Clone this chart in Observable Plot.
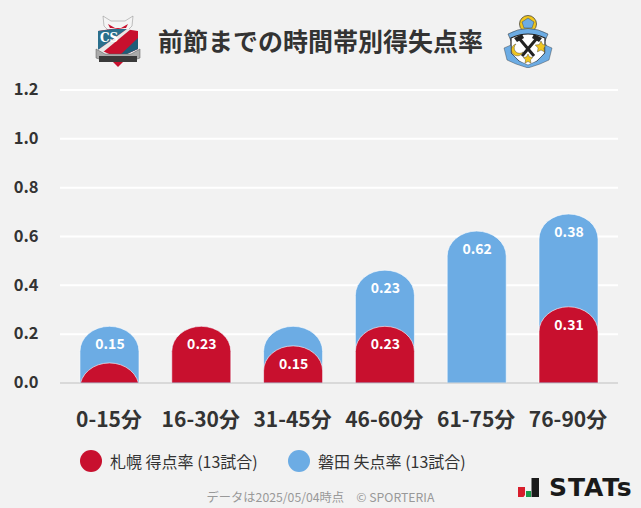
<!DOCTYPE html>
<html><head><meta charset="utf-8">
<script src="https://cdn.jsdelivr.net/npm/d3@7"></script>
<script src="https://cdn.jsdelivr.net/npm/@observablehq/plot@0.6"></script>
<style>
html,body{margin:0;padding:0;background:#f2f2f2;width:641px;height:508px;overflow:hidden;font-family:"Noto Sans CJK JP","Noto Sans",sans-serif}
#wrap{position:relative;width:641px;height:508px}
#title{position:absolute;left:0;width:641px;top:20px;text-align:center;font-size:25px;font-weight:700;color:#333;line-height:40px}
#chart{position:absolute;left:0;top:70px}
.lg{position:absolute;top:449px;height:24px;font-size:16px;line-height:24px;color:#333;white-space:nowrap}
.dot{position:absolute;width:22px;height:22px;border-radius:50%;top:450px}
#foot{position:absolute;left:0;width:641px;top:488px;text-align:center;font-size:12.25px;line-height:18px;color:#999}
#stats{position:absolute;left:549px;top:474px;font:700 25px/27px "DejaVu Sans",sans-serif;color:#1a1a1a;letter-spacing:.9px}
svg.deco{position:absolute}
</style></head><body><div id="wrap">
<svg class="deco" style="left:95px;top:14px" width="46" height="54" viewBox="0 0 46 54">
<path d="M8 2 L16 7 H30 L38 2 L37 12 L30 19 H16 L9 12Z" fill="#f4f4f4" stroke="#999" stroke-width=".6"/>
<path d="M13 10 L20 14 L15 14Z M33 10 L26 14 L31 14Z" fill="#c8102e"/>
<path d="M3 17 L23 14 L43 17 V35 L23 44 L3 35Z" fill="#c8102e"/>
<path d="M3 17 L18 15 L32 15 L3 36Z" fill="#2a6f8c"/>
<path d="M3 38 V36 L32 15 H36 L7 39Z" fill="#e8e8e8"/>
<path d="M24 42 L43 24 V35 L23 44Z" fill="#1f5d78"/>
<text x="5" y="28" font-size="12" font-weight="700" fill="#fff" font-family="DejaVu Serif">CS</text>
<path d="M1 35 L10 40 H36 L45 35 V44 L36 47 H10 L1 44Z" fill="#aaa" stroke="#555" stroke-width=".5"/>
<path d="M4 42 H42 V48 H4Z" fill="#3a3a3a"/>
<path d="M18 48 H28 L23 53Z" fill="#c8102e"/>
</svg>
<svg class="deco" style="left:503px;top:14px" width="50" height="54" viewBox="0 0 50 54">
<circle cx="25" cy="10" r="8.5" fill="#f0c61e" stroke="#333" stroke-width=".7"/>
<path d="M19 8 L25 4 L31 8 L29 14 H21Z" fill="#6cace4" stroke="#333" stroke-width=".4"/>
<path d="M5 20 Q25 9 45 20 L42 27 Q25 18 8 27Z" fill="#6cace4" stroke="#333" stroke-width=".5"/>
<path d="M8 24 Q25 16 42 24 V39 Q34 49 25 53 Q16 49 8 39Z" fill="#fff" stroke="#222" stroke-width="1.2"/>
<path d="M15 23 L31 42 M35 23 L19 42" stroke="#222" stroke-width="3" fill="none"/>
<path d="M11 24 L19 20 L21 24 L14 28Z M39 24 L31 20 L29 24 L36 28Z" fill="#222"/>
<path d="M13 30 a6 6 0 1 0 7 8 a5 5 0 0 1 -7 -8z" fill="#f0c61e" stroke="#333" stroke-width=".4"/>
<path d="M38 27 l1.8 3.6 4 .5 -2.9 2.8 .7 4 -3.6 -1.9 -3.6 1.9 .7 -4 -2.9 -2.8 4 -.5z M25 40 l1.5 3 3.3 .5 -2.4 2.3 .6 3.3 -3 -1.6 -3 1.6 .6 -3.3 -2.4 -2.3 3.3 -.5z" fill="#f0c61e" stroke="#333" stroke-width=".4"/>
<path d="M1 34 L8 31 V39 L16 47 L25 51 L34 47 L42 39 V31 L49 34 L46 46 L37 50 L25 54 L13 50 L4 46Z" fill="#6cace4" stroke="#333" stroke-width=".4"/>
</svg>
<div id="title">前節までの時間帯別得失点率</div>
<div id="chart"></div>
<div class="dot" style="left:80px;background:#c8102e"></div><div class="lg" style="left:110px">札幌 得点率 (13試合)</div>
<div class="dot" style="left:288px;background:#6cace4"></div><div class="lg" style="left:318px">磐田 失点率 (13試合)</div>
<div id="foot">データは2025/05/04時点　© SPORTERIA</div>
<svg class="deco" style="left:517px;top:476px" width="24" height="23" viewBox="0 0 24 23">
<path d="M1 11 H8 V19 L6.5 21 H1Z" fill="#d81e2c"/><rect x="9" y="15" width="5" height="6" fill="#1a9a4a"/><rect x="14.5" y="2" width="7.5" height="19" fill="#1a1a1a"/>
</svg>
<div id="stats">STATs</div>
</div>
<script>
const periods = ["0-15分","16-30分","31-45分","46-60分","61-75分","76-90分"];
const sapporoRate = [0.08,0.23,0.15,0.23,0,0.31];
const iwataRate = [0.15,0,0.08,0.23,0.62,0.38];
const yTicks = [0,0.2,0.4,0.6,0.8,1.0,1.2];
const labelMin = 0.1;
const rows = periods.map((p,i)=>({p,red:sapporoRate[i],blue:iwataRate[i],total:sapporoRate[i]+iwataRate[i]}));
const red="#c8102e", blue="#6cace4", below=-0.3;
const bars = (key,fill)=>Plot.barY(rows.filter(d=>d[key]>0),{x:"p",y1:()=>below,y2:key,fill,rx:29.5,ry:25,clip:true,stroke:"#fff",strokeOpacity:.6,strokeWidth:1});
const valueText = (key,val)=>Plot.text(rows.filter(d=>d[val]>=labelMin),{x:"p",y:key,text:d=>d[val].toFixed(2),dy:18,fill:"#fff",fontSize:14,fontWeight:600,style:{textShadow:"1px 1px 1px #333"}});
const plot = Plot.plot({
  width:641,height:370,marginLeft:60,marginRight:23,marginTop:19.5,marginBottom:57.5,
  style:{background:"transparent",fontFamily:'"Noto Sans CJK JP","Noto Sans",sans-serif',overflow:"visible"},
  x:{domain:periods,paddingInner:.357,paddingOuter:.2175,align:.5,round:false,label:null},
  y:{domain:[0,1.2],label:null},
  marks:[
    Plot.ruleY(yTicks.slice(1),{stroke:"#fff",strokeWidth:2}),
    Plot.ruleY([0],{stroke:"#d9d9d9",strokeWidth:2}),
    bars("total",blue),
    bars("red",red),
    Plot.axisY({ticks:yTicks,tickFormat:d=>d.toFixed(1),tickSize:0,tickPadding:22,fontSize:16.5,fontWeight:700,fill:"#333",label:null}),
    Plot.axisX({tickSize:0,tickPadding:29,fontSize:21,dx:-1,fontWeight:700,fill:"#333",label:null}),
    valueText("total","blue"),
    valueText("red","red")
  ]
});
document.getElementById("chart").appendChild(plot);
</script></body></html>
